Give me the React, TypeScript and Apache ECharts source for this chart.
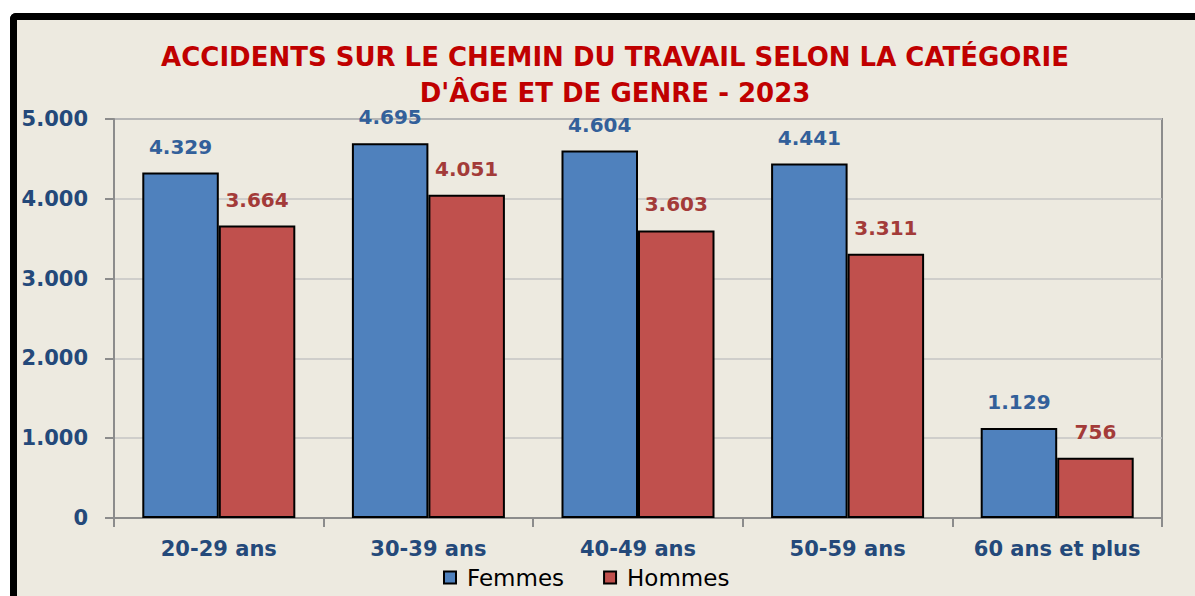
import React, { useEffect, useRef } from "react";
import * as echarts from "echarts";

const categories = ["20-29 ans", "30-39 ans", "40-49 ans", "50-59 ans", "60 ans et plus"];
const femmes = [4329, 4695, 4604, 4441, 1129];
const hommes = [3664, 4051, 3603, 3311, 756];
const titleLines = ["ACCIDENTS SUR LE CHEMIN DU TRAVAIL SELON LA CATÉGORIE", "D'ÂGE ET DE GENRE - 2023"];

const FONT = "DejaVu Sans";
const fmt = (v: number) => {
  const s = String(Math.round(v));
  return s.replace(/\B(?=(\d{3})+(?!\d))/g, ".");
};

export default function App() {
  const ref = useRef<HTMLDivElement>(null);
  useEffect(() => {
    if (!ref.current) return;
    const chart = echarts.init(ref.current, undefined, { renderer: "svg" });
    chart.setOption({
      animation: false,
      title: {
        text: titleLines.join("\n"),
        left: 610,
        textAlign: "center",
        top: 34,
        textStyle: {
          fontFamily: FONT,
          fontWeight: "bold",
          fontSize: 26,
          color: "#C00000",
          lineHeight: 36,
        },
      },
      grid: {
        left: 114,
        top: 119,
        width: 1048,
        height: 399,
        show: true,
        borderColor: "#8c8c8c",
        borderWidth: 2,
        backgroundColor: "transparent",
      },
      legend: {
        data: ["Femmes", "Hommes"],
        left: 438,
        top: 561,
        itemWidth: 12,
        itemHeight: 12,
        itemGap: 39,
        icon: "rect",
        textStyle: { fontFamily: FONT, fontSize: 23, color: "#000", padding: [0, 0, 0, 6] },
      },
      xAxis: {
        type: "category",
        data: categories,
        axisLine: { lineStyle: { color: "#8c8c8c", width: 2 } },
        axisTick: { show: true, interval: 0, length: 9, lineStyle: { color: "#8c8c8c", width: 2 } },
        axisLabel: {
          interval: 0,
          fontFamily: FONT,
          fontWeight: "bold",
          fontSize: 21,
          color: "#24497A",
          margin: 20,
        },
      },
      yAxis: {
        type: "value",
        min: 0,
        max: 5000,
        interval: 1000,
        axisLine: { show: true, lineStyle: { color: "#8c8c8c", width: 2 } },
        axisTick: { show: true, length: 9, lineStyle: { color: "#8c8c8c", width: 2 } },
        splitLine: { lineStyle: { color: "#c4c4c4", width: 1.5 } },
        axisLabel: {
          fontFamily: FONT,
          fontWeight: "bold",
          fontSize: 21,
          color: "#24497A",
          margin: 26,
          formatter: (v: number) => fmt(v),
        },
      },
      series: [
        {
          name: "Femmes",
          type: "bar",
          data: femmes,
          barGap: "0%",
          barCategoryGap: "27%",
          itemStyle: { color: "#4F81BD", borderColor: "#000", borderWidth: 2 },
          label: {
            show: true,
            position: "top",
            distance: 16,
            fontFamily: FONT,
            fontWeight: "bold",
            fontSize: 20,
            color: "#33609A",
            formatter: (p: any) => fmt(p.value),
          },
        },
        {
          name: "Hommes",
          type: "bar",
          data: hommes,
          itemStyle: { color: "#C0504D", borderColor: "#000", borderWidth: 2 },
          label: {
            show: true,
            position: "top",
            distance: 16,
            fontFamily: FONT,
            fontWeight: "bold",
            fontSize: 20,
            color: "#A33B39",
            formatter: (p: any) => fmt(p.value),
          },
        },
      ],
    });
    return () => chart.dispose();
  }, []);

  return (
    <div style={{ position: "fixed", left: 0, top: 0, width: 1195, height: 596, background: "#fff", overflow: "hidden" }}>
      <div
        style={{
          position: "absolute",
          left: 10,
          top: 13,
          width: 1300,
          height: 700,
          background: "#EDEAE0",
          borderLeft: "7px solid #000",
          borderTop: "7px solid #000",
          borderTopLeftRadius: 6,
        }}
      />
      <div ref={ref} style={{ position: "absolute", left: 0, top: 0, width: 1195, height: 596 }} />
    </div>
  );
}
